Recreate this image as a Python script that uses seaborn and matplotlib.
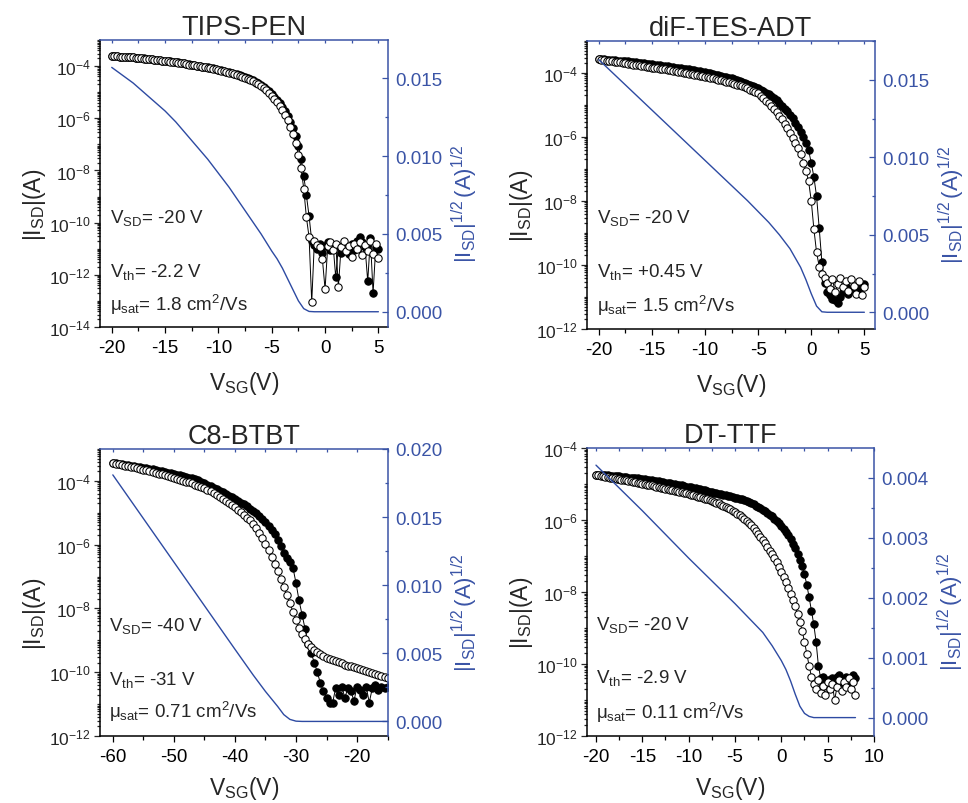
import numpy as np
import matplotlib
matplotlib.use('Agg')
import matplotlib.pyplot as plt
import seaborn as sns
from matplotlib.ticker import FixedLocator, MultipleLocator, FuncFormatter, LogLocator, NullFormatter

# ---------------- data (log10 |I_SD| in A) ----------------
# TIPS-PEN, V_SG sweep -20 .. 5 V, step 0.25 V
tips_v = (-20.0, 5.0, 0.25)
tips_open = [
    -3.62, -3.63, -3.63, -3.64, -3.65, -3.65, -3.66, -3.67, -3.67, -3.68, -3.69, -3.70,
    -3.71, -3.72, -3.73, -3.74, -3.76, -3.77, -3.78, -3.80, -3.81, -3.82, -3.83, -3.85,
    -3.86, -3.87, -3.89, -3.90, -3.92, -3.94, -3.96, -3.97, -3.99, -4.01, -4.03, -4.05,
    -4.07, -4.09, -4.11, -4.13, -4.15, -4.17, -4.20, -4.22, -4.25, -4.28, -4.31, -4.34,
    -4.37, -4.41, -4.45, -4.49, -4.53, -4.58, -4.64, -4.70, -4.77, -4.85, -4.93, -5.03,
    -5.14, -5.26, -5.39, -5.53, -5.70, -5.88, -6.08, -6.32, -6.60, -6.95, -7.40, -7.90,
    -8.70, -9.80, -10.55, -13.05, -10.70, -10.85, -10.95, -11.40, -12.55, -10.90, -10.75, -11.05,
    -10.80, -12.45, -10.95, -10.70, -11.10, -10.90, -11.30, -10.80, -11.00, -10.75, -11.25, -10.85,
    -11.10, -10.70, -11.20, -10.80, -11.35]
tips_fill = [
    -3.62, -3.62, -3.63, -3.64, -3.64, -3.65, -3.66, -3.66, -3.67, -3.68, -3.69, -3.70,
    -3.70, -3.71, -3.72, -3.74, -3.75, -3.76, -3.77, -3.79, -3.80, -3.81, -3.82, -3.84,
    -3.85, -3.86, -3.88, -3.89, -3.91, -3.93, -3.94, -3.96, -3.98, -4.00, -4.02, -4.03,
    -4.05, -4.07, -4.09, -4.12, -4.14, -4.16, -4.18, -4.21, -4.23, -4.26, -4.29, -4.32,
    -4.35, -4.38, -4.42, -4.46, -4.50, -4.55, -4.60, -4.66, -4.72, -4.79, -4.87, -4.96,
    -5.06, -5.17, -5.29, -5.42, -5.57, -5.74, -5.92, -6.13, -6.38, -6.68, -7.05, -7.55,
    -8.20, -8.95, -9.75, -10.70, -10.85, -11.00, -10.80, -11.15, -10.90, -10.75, -11.05, -10.85,
    -12.10, -10.90, -11.15, -10.85, -10.95, -11.20, -10.80, -11.05, -10.70, -10.55, -10.75, -10.95,
    -12.25, -10.60, -12.70, -10.95, -11.00]
tips_sqrt_v = [-20, -19, -18, -17, -16, -15, -14, -13, -12, -11, -10, -9, -8, -7, -6, -5,
               -4.5, -4, -3.5, -3, -2.5, -2, -1.5, -1, 5]
tips_sqrt = [0.0157, 0.0152, 0.0147, 0.0141, 0.0135, 0.0129, 0.0122, 0.0114, 0.0106, 0.0098,
             0.0089, 0.0080, 0.0070, 0.0060, 0.0050, 0.0039, 0.0034, 0.0028, 0.0021, 0.0014,
             0.0007, 0.0002, 0.00002, 0.0, 0.0]

# diF-TES-ADT, -20 .. 5 V, step 0.25 V
dif_v = (-20.0, 5.0, 0.25)
dif_open = [
    -3.56, -3.58, -3.59, -3.61, -3.62, -3.63, -3.65, -3.66, -3.67, -3.69, -3.70, -3.71,
    -3.73, -3.74, -3.75, -3.76, -3.78, -3.79, -3.80, -3.82, -3.83, -3.84, -3.85, -3.87,
    -3.88, -3.89, -3.90, -3.92, -3.93, -3.94, -3.96, -3.97, -3.99, -4.00, -4.02, -4.03,
    -4.05, -4.06, -4.08, -4.10, -4.11, -4.13, -4.15, -4.17, -4.19, -4.21, -4.23, -4.25,
    -4.27, -4.29, -4.31, -4.34, -4.36, -4.39, -4.42, -4.45, -4.48, -4.52, -4.56, -4.60,
    -4.64, -4.71, -4.78, -4.86, -4.94, -5.03, -5.12, -5.22, -5.33, -5.45, -5.58, -5.72,
    -5.86, -6.02, -6.18, -6.35, -6.53, -6.80, -7.05, -7.38, -7.99, -8.88, -9.60, -10.05,
    -10.28, -10.40, -10.55, -10.75, -10.45, -10.85, -10.60, -10.40, -10.70, -10.50, -10.80, -10.45,
    -10.65, -10.90, -10.50, -10.95, -10.70]
dif_fill = [
    -3.56, -3.57, -3.57, -3.58, -3.59, -3.59, -3.60, -3.61, -3.61, -3.62, -3.63, -3.64,
    -3.65, -3.66, -3.67, -3.68, -3.69, -3.70, -3.71, -3.72, -3.73, -3.74, -3.75, -3.76,
    -3.77, -3.78, -3.79, -3.80, -3.81, -3.83, -3.84, -3.85, -3.86, -3.88, -3.89, -3.90,
    -3.92, -3.93, -3.95, -3.96, -3.98, -4.00, -4.01, -4.03, -4.05, -4.07, -4.09, -4.11,
    -4.13, -4.15, -4.17, -4.20, -4.22, -4.25, -4.28, -4.31, -4.34, -4.37, -4.40, -4.44,
    -4.48, -4.52, -4.56, -4.61, -4.66, -4.72, -4.78, -4.85, -4.93, -5.02, -5.12, -5.20,
    -5.30, -5.42, -5.55, -5.70, -5.85, -6.00, -6.18, -6.42, -6.80, -7.25, -7.85, -8.85,
    -9.90, -10.55, -10.85, -10.95, -11.05, -11.10, -11.20, -11.00, -10.85, -10.70, -10.90, -10.75,
    -10.80, -10.65, -10.85, -10.70, -10.60]
dif_sqrt_v = [-20, -18, -16, -14, -12, -10, -8, -6, -5, -4, -3, -2, -1, -0.5, 0, 0.5, 1, 1.5, 5]
dif_sqrt = [0.0163, 0.0150, 0.0137, 0.0124, 0.0111, 0.0098, 0.0085, 0.0072, 0.0065, 0.0058,
            0.0050, 0.0041, 0.0029, 0.0021, 0.0012, 0.0004, 0.00003, 0.0, 0.0]

# C8-BTBT, -60 .. -15 V, step 0.5 V
c8_v = (-60.0, -15.0, 0.5)
c8_open = [
    -3.44, -3.46, -3.48, -3.50, -3.52, -3.54, -3.56, -3.58, -3.60, -3.62,
    -3.65, -3.67, -3.69, -3.72, -3.74, -3.77, -3.79, -3.82, -3.84, -3.87,
    -3.90, -3.93, -3.96, -3.99, -4.02, -4.05, -4.08, -4.12, -4.15, -4.19,
    -4.23, -4.28, -4.33, -4.38, -4.44, -4.50, -4.56, -4.62, -4.69, -4.76,
    -4.83, -4.91, -4.99, -5.07, -5.15, -5.23, -5.34, -5.47, -5.62, -5.79,
    -5.98, -6.18, -6.39, -6.61, -6.84, -7.08, -7.33, -7.58, -7.84, -8.10,
    -8.35, -8.60, -8.80, -8.97, -9.10, -9.21, -9.30, -9.38, -9.44, -9.50,
    -9.55, -9.59, -9.63, -9.66, -9.69, -9.72, -9.76, -9.79, -9.82, -9.85,
    -9.88, -9.91, -9.94, -9.97, -10.00, -10.03, -10.06, -10.09, -10.12, -10.15,
    -10.18]
c8_fill = [
    -3.44, -3.45, -3.47, -3.48, -3.50, -3.51, -3.53, -3.54, -3.56, -3.57,
    -3.59, -3.61, -3.62, -3.64, -3.66, -3.68, -3.70, -3.72, -3.74, -3.76,
    -3.78, -3.80, -3.82, -3.85, -3.87, -3.90, -3.92, -3.95, -3.98, -4.02,
    -4.08, -4.12, -4.17, -4.21, -4.26, -4.31, -4.36, -4.41, -4.46, -4.52,
    -4.57, -4.62, -4.68, -4.74, -4.80, -4.87, -4.94, -5.02, -5.10, -5.19,
    -5.29, -5.40, -5.53, -5.68, -5.86, -6.05, -6.25, -6.42, -6.55, -6.72,
    -7.20, -7.75, -8.20, -8.65, -9.10, -9.40, -9.70, -10.00, -10.35, -10.60,
    -10.80, -10.98, -10.95, -10.50, -10.70, -10.45, -10.80, -10.50, -10.60, -10.90,
    -10.45, -10.55, -10.70, -10.45, -10.95, -10.50, -10.40, -10.55, -10.45, -10.50,
    -10.45]
c8_sqrt_v = [-60, -55, -50, -45, -40, -37, -35, -33, -32, -31, -30, -29, -15]
c8_sqrt = [0.0181, 0.0149, 0.0117, 0.0085, 0.0053, 0.0034, 0.0022, 0.0011, 0.0005, 0.00015,
           0.00002, 0.0, 0.0]

# DT-TTF, -20 .. 8 V, step 0.25 V
dt_v = (-20.0, 8.0, 0.25)
dt_open = [
    -4.74, -4.76, -4.77, -4.78, -4.80, -4.81, -4.82, -4.83, -4.84, -4.85, -4.87, -4.88,
    -4.89, -4.90, -4.91, -4.93, -4.94, -4.95, -4.96, -4.98, -4.99, -5.00, -5.02, -5.03,
    -5.04, -5.06, -5.07, -5.08, -5.10, -5.11, -5.13, -5.14, -5.16, -5.17, -5.19, -5.20,
    -5.22, -5.23, -5.25, -5.26, -5.28, -5.30, -5.31, -5.33, -5.35, -5.37, -5.39, -5.41,
    -5.43, -5.45, -5.47, -5.49, -5.52, -5.54, -5.57, -5.60, -5.63, -5.66, -5.70, -5.74,
    -5.78, -5.82, -5.87, -5.92, -5.97, -6.03, -6.09, -6.15, -6.22, -6.30, -6.38, -6.47,
    -6.56, -6.65, -6.75, -6.85, -6.95, -7.06, -7.17, -7.30, -7.44, -7.58, -7.73, -7.89,
    -8.05, -8.22, -8.40, -8.60, -8.82, -9.08, -9.38, -9.72, -10.05, -10.35, -10.55, -10.70,
    -10.45, -10.80, -10.60, -10.85, -10.50, -10.70, -10.55, -11.00, -10.65, -10.45, -10.75, -10.50,
    -10.65, -10.40, -10.70, -10.50, -10.85]
dt_fill = [
    -4.74, -4.74, -4.75, -4.75, -4.76, -4.76, -4.77, -4.77, -4.78, -4.78, -4.79, -4.80,
    -4.80, -4.81, -4.82, -4.82, -4.83, -4.84, -4.84, -4.85, -4.86, -4.87, -4.88, -4.89,
    -4.90, -4.91, -4.92, -4.93, -4.94, -4.95, -4.96, -4.97, -4.98, -4.99, -5.00, -5.02,
    -5.03, -5.04, -5.05, -5.07, -5.08, -5.09, -5.11, -5.12, -5.13, -5.15, -5.16, -5.18,
    -5.19, -5.21, -5.22, -5.24, -5.25, -5.27, -5.28, -5.30, -5.31, -5.33, -5.34, -5.36,
    -5.38, -5.39, -5.41, -5.43, -5.45, -5.48, -5.50, -5.53, -5.56, -5.60, -5.63, -5.67,
    -5.71, -5.75, -5.80, -5.85, -5.90, -5.96, -6.02, -6.09, -6.16, -6.24, -6.33, -6.43,
    -6.54, -6.66, -6.79, -6.94, -7.10, -7.29, -7.51, -7.80, -8.15, -8.52, -8.90, -9.38,
    -10.05, -10.40, -10.35, -10.50, -10.45, -10.55, -10.40, -10.60, -10.35, -10.30, -10.45, -10.55,
    -10.35, -10.50, -10.40, -10.30, -10.40]
dt_sqrt_v = [-20, -15, -10, -5, -2, -1, 0, 0.5, 1, 1.5, 2, 2.5, 3, 3.5, 8]
dt_sqrt = [0.00421, 0.00345, 0.00266, 0.00190, 0.00142, 0.00120, 0.00095, 0.00080, 0.00061,
           0.00039, 0.00019, 0.00007, 0.00002, 0.0, 0.0]

titles = ['TIPS-PEN', 'diF-TES-ADT', 'C8-BTBT', 'DT-TTF']
notes = [
    ['-20 V', '-2.2 V', '1.8'],
    ['-20 V', '+0.45 V', '1.5'],
    ['-40 V', '-31 V', '0.71'],
    ['-20 V', '-2.9 V', '0.11'],
]

# ---------------- style ----------------
sns.set_style('ticks')
plt.rcParams.update({
    'font.family': ['Liberation Sans', 'DejaVu Sans'],
    'mathtext.fontset': 'custom',
    'mathtext.rm': 'Liberation Sans',
    'mathtext.it': 'Liberation Sans:italic',
    'mathtext.bf': 'Liberation Sans:bold',
    'mathtext.sf': 'Liberation Sans',
    'axes.linewidth': 1.0,
})
BLUE = '#3A54A6'
LINE = '#2D4AA2'

W, H = 968, 804
fig = plt.figure(figsize=(W / 100, H / 100), dpi=100)


def rect(x0, y0, x1, y1):
    return [x0 / W, 1 - y1 / H, (x1 - x0) / W, (y1 - y0) / H]


panels = [
    dict(rect=rect(100, 41, 388, 328), sweep=tips_v, op=tips_open, fi=tips_fill,
         bx=tips_sqrt_v, by=tips_sqrt, xlim=(-21.1, 5.9), xmaj=5, xmin=2.5,
         ylim=(1e-14, 1e-3), ymaj=[1e-14, 1e-12, 1e-10, 1e-8, 1e-6, 1e-4],
         y2lim=(-0.00098, 0.01746), y2maj=0.005, y2min=0.0025,
         tx=0.035, ty=(0.365, 0.179, 0.060), xly=-0.146),
    dict(rect=rect(587, 42, 875, 330), sweep=dif_v, op=dif_open, fi=dif_fill,
         bx=dif_sqrt_v, by=dif_sqrt, xlim=(-21.1, 6.0), xmaj=5, xmin=2.5,
         ylim=(1e-12, 1e-3), ymaj=[1e-12, 1e-10, 1e-8, 1e-6, 1e-4],
         y2lim=(-0.00108, 0.0175), y2maj=0.005, y2min=0.0025,
         tx=0.035, ty=(0.37, 0.183, 0.063), xly=-0.146),
    dict(rect=rect(100, 450, 388, 737), sweep=c8_v, op=c8_open, fi=c8_fill,
         bx=c8_sqrt_v, by=c8_sqrt, xlim=(-62.1, -14.93), xmaj=10, xmin=5,
         ylim=(1e-12, 1e-3), ymaj=[1e-12, 1e-10, 1e-8, 1e-6, 1e-4],
         y2lim=(-0.00107, 0.020), y2maj=0.005, y2min=0.0025,
         tx=0.032, ty=(0.371, 0.182, 0.066), xly=-0.132),
    dict(rect=rect(587, 449, 874, 737), sweep=dt_v, op=dt_open, fi=dt_fill,
         bx=dt_sqrt_v, by=dt_sqrt, xlim=(-20.97, 10.0), xmaj=5, xmin=2.5,
         ylim=(1e-12, 1e-4), ymaj=[1e-12, 1e-10, 1e-8, 1e-6, 1e-4],
         y2lim=(-0.000307, 0.004496), y2maj=0.001, y2min=0.0005,
         tx=0.031, ty=(0.371, 0.186, 0.064), xly=-0.132),
]

xfmt = FuncFormatter(lambda v, p: '%g' % v if abs(v) > 1e-9 else '0')
yfmt = FuncFormatter(lambda v, p: r'$\mathregular{10^{%d}}$' % int(round(np.log10(v))))
y2fmt = FuncFormatter(lambda v, p: '%.3f' % (0.0 if abs(v) < 1e-12 else v))

for i, P in enumerate(panels):
    a, b, s = P['sweep']
    v = np.arange(a, b + s / 2, s)
    ax = fig.add_axes(P['rect'])
    ax.set_yscale('log')
    common = dict(ax=ax, color='black', linewidth=0.7, marker='o', markersize=5.3,
                  markeredgecolor='black', markeredgewidth=0.75, estimator=None, sort=False)
    sns.lineplot(x=v, y=10 ** np.array(P['fi']), markerfacecolor='black', zorder=2, **common)
    sns.lineplot(x=v, y=10 ** np.array(P['op']), markerfacecolor='white', zorder=3, **common)

    ax.set_xlim(P['xlim'])
    ax.set_ylim(P['ylim'])
    ax.xaxis.set_major_locator(MultipleLocator(P['xmaj']))
    ax.xaxis.set_minor_locator(MultipleLocator(P['xmin']))
    ax.xaxis.set_major_formatter(xfmt)
    ax.yaxis.set_major_locator(FixedLocator(P['ymaj']))
    ax.yaxis.set_major_formatter(yfmt)
    ax.yaxis.set_minor_locator(LogLocator(base=10, subs=np.arange(1, 10), numticks=200))
    ax.yaxis.set_minor_formatter(NullFormatter())
    ax.tick_params(axis='x', which='both', bottom=True, top=False, direction='out',
                   labelsize=13.5, pad=4.5, width=0.9, colors='black')
    ax.tick_params(axis='x', which='major', length=4)
    ax.tick_params(axis='x', which='minor', length=3)
    ax.tick_params(axis='y', which='both', left=True, right=False, direction='out',
                   labelsize=12.5, pad=2.5, width=0.9)
    ax.tick_params(axis='y', which='major', length=4)
    ax.tick_params(axis='y', which='minor', length=2)
    ax.spines['top'].set_visible(False)
    ax.spines['right'].set_visible(False)
    for sp in ('left', 'bottom'):
        ax.spines[sp].set_color('black')
        ax.spines[sp].set_linewidth(1.1)

    ax.set_title(titles[i], fontsize=19.5, pad=4.5)
    ax.set_xlabel(r'$\mathregular{V_{SG}(V)}$', fontsize=16.5)
    ax.xaxis.set_label_coords(0.5, P['xly'])
    ax.set_ylabel(r'$\mathregular{|I_{SD}|(A)}$', fontsize=16.5)
    ax.yaxis.set_label_coords(-0.18, 0.43)

    n = notes[i]
    ax.text(P['tx'], P['ty'][0], r'V$_\mathregular{SD}$= ' + n[0], transform=ax.transAxes,
            fontsize=13.5, va='baseline', zorder=5)
    ax.text(P['tx'], P['ty'][1], r'V$_\mathregular{th}$= ' + n[1], transform=ax.transAxes,
            fontsize=13.5, va='baseline', zorder=5)
    ax.text(P['tx'], P['ty'][2], '\u03bc$_\\mathregular{sat}$= ' + n[2] + r' cm$^\mathregular{2}$/Vs',
            transform=ax.transAxes, fontsize=13.5, va='baseline', zorder=5)

    ax2 = ax.twinx()
    sns.lineplot(x=P['bx'], y=P['by'], ax=ax2, color=LINE, linewidth=1.0,
                 estimator=None, sort=False)
    ax2.set_ylim(P['y2lim'])
    ax2.yaxis.set_major_locator(MultipleLocator(P['y2maj']))
    ax2.yaxis.set_minor_locator(MultipleLocator(P['y2min']))
    ax2.yaxis.set_major_formatter(y2fmt)
    ax2.tick_params(axis='y', which='both', left=False, right=True, direction='in',
                    labelsize=13.5, pad=5, colors=BLUE, width=0.9)
    ax2.tick_params(axis='y', which='major', length=4)
    ax2.tick_params(axis='y', which='minor', length=2.5)
    ax2.xaxis.set_visible(True)
    ax2.tick_params(axis='x', which='both', bottom=False, top=True, labelbottom=False,
                    labeltop=False, direction='in', length=2.5, color=BLUE, width=0.9)
    ax2.set_xlabel('')
    ax2.spines['left'].set_visible(False)
    ax2.spines['bottom'].set_visible(False)
    for sp in ('top', 'right'):
        ax2.spines[sp].set_color(BLUE)
        ax2.spines[sp].set_linewidth(1.1)
    ax2.set_ylabel(r'$\mathregular{|I_{SD}|^{1/2}\,(A)^{1/2}}$', fontsize=16, color=BLUE)
    ax2.yaxis.set_label_coords(1.215, 0.434)

fig.savefig('out.png', dpi=100)
